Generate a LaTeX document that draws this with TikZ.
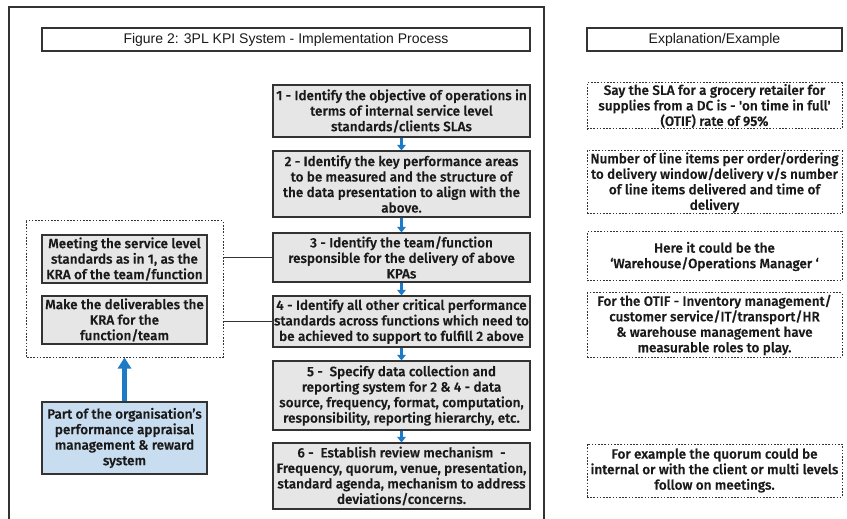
\documentclass[tikz,border=0pt]{standalone}
\usepackage{fontspec}
\setmainfont{Liberation Sans}
\newfontfamily\boxfont{Fira Sans}[UprightFont={* Medium}, UprightFeatures={FakeBold=0.4}, FakeStretch=1.0]
\usetikzlibrary{arrows.meta}
\definecolor{boxgray}{HTML}{E6E6E6}
\definecolor{boxblue}{HTML}{C9DDF1}
\definecolor{edge}{HTML}{333333}
\definecolor{arrblue}{HTML}{1F7AC6}
\definecolor{txt}{HTML}{1A1A1A}
\tikzset{
  base/.style={draw=edge, line width=1.1bp, inner sep=0pt, align=center, text=txt,
    font=\boxfont\fontsize{13.5bp}{15.5bp}\selectfont},
  gbox/.style={base, fill=boxgray},
  bbox/.style={base, fill=boxblue},
  dbox/.style={base, draw=edge, line width=1bp, dash pattern=on 1.6bp off 1.6bp},
  hbox/.style={draw=edge, line width=1.1bp, inner sep=0pt, text=txt,
    font=\fontsize{14bp}{16bp}\selectfont},
  smallarr/.style={draw=arrblue, line width=2.6bp, -{Triangle[width=8.5bp,length=5.5bp]}},
  bigarr/.style={draw=arrblue, line width=5bp, -{Triangle[width=13bp,length=11bp]}},
  conn/.style={draw=edge, line width=1.1bp},
  frame/.style={draw=edge, line width=1.2bp}
}
\begin{document}
\begin{tikzpicture}[x=1bp,y=-1bp]
\useasboundingbox (0,0) rectangle (847,519);
\fill[white] (0,0) rectangle (847,519);
\coordinate (fbl) at (9,519);
\coordinate (ftl) at (9,7);
\coordinate (ftr) at (544,7);
\coordinate (fbr) at (544,519);
\draw[frame] (fbl) -- (ftl) -- (ftr) -- (fbr);

% headers
\node[hbox, minimum width=488bp, minimum height=23bp] (title) at (286,39.5) {Figure 2: 3PL KPI System - Implementation Process};
\node[hbox, minimum width=255bp, minimum height=23bp] (expl) at (714.5,39.5) {Explanation/Example};

% central column
\node[gbox, minimum width=257bp, minimum height=52bp] (b1) at (401.5,111) {1 - Identify the objective of operations in\\terms of internal service level\\standards/clients SLAs};
\node[gbox, minimum width=257bp, minimum height=66bp] (b2) at (401.5,184) {2 - Identify the key performance areas\\to be measured and the structure of\\the data presentation to align with the\\above.};
\node[gbox, minimum width=257bp, minimum height=49bp] (b3) at (401.5,257.5) {3 - Identify the team/function\\responsible for the delivery of above\\KPAs};
\node[gbox, minimum width=257bp, minimum height=51bp] (b4) at (401.5,321.5) {4 - Identify all other critical performance\\standards across functions which need to\\be achieved to support to fulfill 2 above};
\node[gbox, minimum width=257bp, minimum height=69bp] (b5) at (401.5,395.5) {5 -\ \ Specify data collection and\\reporting system for 2 \& 4 - data\\source, frequency, format, computation,\\responsibility, reporting hierarchy, etc.};
\node[gbox, minimum width=257bp, minimum height=66bp] (b6) at (401.5,476) {6 -\ \ Establish review mechanism\ \ -\\Frequency, quorum, venue, presentation,\\standard agenda, mechanism to address\\deviations/concerns.};

\draw[smallarr] (b1.south) -- (b2.north);
\draw[smallarr] (b2.south) -- (b3.north);
\draw[smallarr] (b3.south) -- (b4.north);
\draw[smallarr] (b4.south) -- (b5.north);
\draw[smallarr] (b5.south) -- (b6.north);

% left column
\node[dbox, fill=none, minimum width=196bp, minimum height=136bp] (grp) at (125,289) {};
\node[gbox, minimum width=165bp, minimum height=48bp] (meet) at (124.5,259) {Meeting the service level\\standards as in 1, as the\\KRA of the team/function};
\node[gbox, minimum width=165bp, minimum height=48bp] (make) at (124.5,320) {Make the deliverables the\\KRA for the\\function/team};
\node[bbox, minimum width=165bp, minimum height=72bp] (part) at (124.5,438) {Part of the organisation’s\\performance appraisal\\management \& reward\\system};

\draw[conn] (grp.east |- b3.west) -- (b3.west);
\draw[conn] (grp.east |- b4.west) -- (b4.west);
\draw[bigarr] (part.north) -- (part.north |- grp.south);

% right column
\node[dbox, minimum width=255bp, minimum height=46bp] (r1) at (714.5,106) {Say the SLA for a grocery retailer for\\supplies from a DC is - 'on time in full'\\(OTIF) rate of 95\%};
\node[dbox, minimum width=255bp, minimum height=63bp] (r2) at (714.5,182.5) {Number of line items per order/ordering\\to delivery window/delivery v/s number\\of line items delivered and time of\\delivery};
\node[dbox, minimum width=255bp, minimum height=49bp] (r3) at (714.5,256.5) {Here it could be the\\‘Warehouse/Operations Manager ‘};
\node[dbox, minimum width=255bp, minimum height=64bp] (r4) at (714.5,325) {For the OTIF - Inventory management/\\customer service/IT/transport/HR\\\& warehouse management have\\measurable roles to play.};
\node[dbox, minimum width=255bp, minimum height=53bp] (r5) at (714.5,470.5) {For example the quorum could be\\internal or with the client or multi levels\\follow on meetings.};
\end{tikzpicture}
\end{document}
